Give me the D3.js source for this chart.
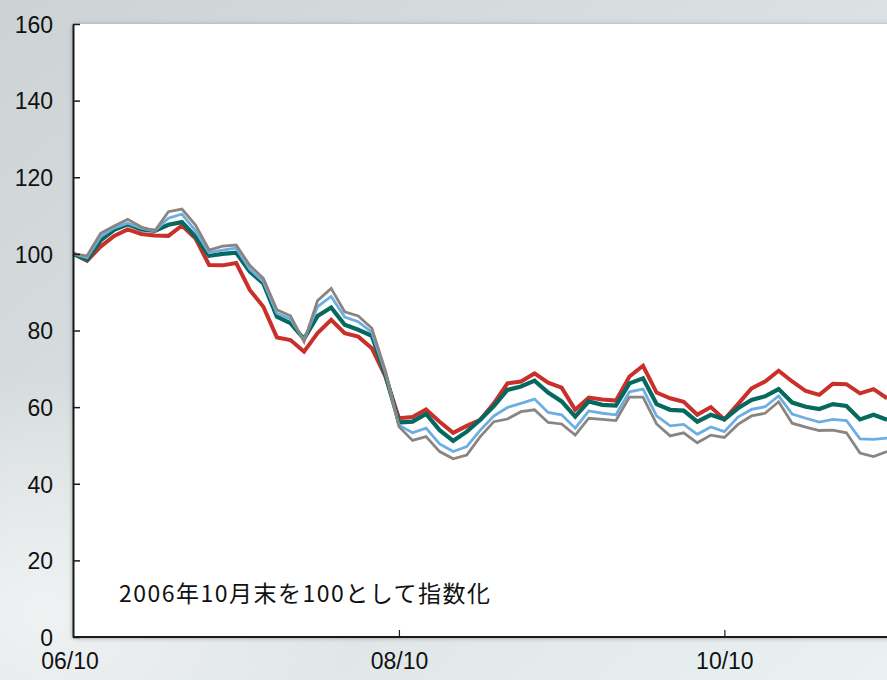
<!DOCTYPE html>
<html>
<head>
<meta charset="utf-8">
<script src="https://cdn.jsdelivr.net/npm/d3@7.9.0/dist/d3.min.js"></script>
<style>
  html, body { margin: 0; padding: 0; background: #dfe4e6; }
  svg { display: block; }
  .tick text { font-family: "Liberation Sans", Arial, sans-serif; font-size: 23px; fill: #111; }
</style>
</head>
<body>
<svg id="chart" width="887" height="680"></svg>
<script>
// === Data: monthly index, 2006/10 = 100 ===
const months = d3.range(0, 61); // 06/10 .. 11/10
const xTickMonths = [0, 24, 48];
const xTickLabels = ['06/10', '08/10', '10/10'];
const yTicks = [0, 20, 40, 60, 80, 100, 120, 140, 160];

const redValues = [
  100, 98.2, 101.9, 104.7, 106.4, 105.2, 104.8, 104.7, 107.4, 104, 97.1, 97, 97.6,
  90.6, 86.2, 78.2, 77.5, 74.5, 79.3, 82.8, 79.3, 78.4, 75.4, 68, 57.1, 57.4, 59.4,
  56.2, 53.3, 55.1, 56.7, 61, 66.2, 66.7, 68.8, 66.4, 65.1, 59.3, 62.5, 62, 61.7,
  68, 70.8, 63.8, 62.3, 61.4, 58, 60, 56.8, 60.8, 64.9, 66.7, 69.5, 66.7, 64.2,
  63.2, 66.1, 66, 63.6, 64.7, 62.3
];
const tealValues = [
  100, 98.5, 103.5, 106.3, 107.7, 106.4, 106, 107.6, 108.3, 104.5, 99.5, 100, 100.3,
  95.4, 92.3, 83.6, 81.9, 77.8, 83.8, 86, 81.5, 80.2, 78.6, 68.5, 56, 56.2, 58.2,
  54, 51.2, 53.6, 56.7, 60.3, 64.5, 65.4, 66.9, 63.8, 61.5, 57.5, 61.5, 60.6, 60.4,
  66.2, 67.5, 60.8, 59.3, 59.1, 56.2, 58, 56.8, 59.7, 61.9, 62.8, 64.7, 61.2, 60.1,
  59.5, 60.8, 60.3, 56.8, 58, 56.7
];
const blueValues = [
  100, 99, 104.5, 106.8, 108, 106.7, 106, 109.3, 110.4, 106, 100.3, 101, 101.5,
  96, 92.8, 84.5, 83, 77.5, 86.2, 88.9, 83.5, 82.3, 79.5, 69, 55.3, 53.3, 54.5,
  50.4, 48.4, 49.7, 54, 57.7, 59.9, 61, 62.1, 58.6, 58, 54.5, 59, 58.4, 58,
  64, 64.7, 57.7, 55.1, 55.5, 52.9, 54.8, 53.6, 57.4, 59.4, 60.1, 62.9, 58.2, 57.1,
  56.1, 56.8, 56.5, 51.7, 51.6, 51.9
];
const grayValues = [
  100, 99.5, 105.4, 107.3, 109, 107, 106, 111, 111.7, 107.5, 101, 102, 102.3,
  97, 93.6, 85.4, 83.8, 77.1, 87.8, 91, 84.9, 83.8, 80.6, 69.5, 54.9, 51.3, 52.3,
  48.4, 46.5, 47.5, 52.3, 56.2, 56.9, 58.8, 59.3, 56, 55.6, 52.7, 57.1, 56.8, 56.5,
  62.6, 62.6, 55.6, 52.5, 53.3, 50.7, 52.7, 52.1, 55.5, 57.7, 58.4, 61.4, 55.8, 54.8,
  53.9, 54, 53.3, 48, 47.1, 48.4
];

const note = '2006年10月末を100として指数化';

// === Layout ===
const svg = d3.select('#chart');
const W = 887, H = 680;
const plotLeft = 73, plotTop = 24, plotBottom = 637;

const x = d3.scaleLinear().domain([0, 60]).range([73.5, 887.1]);
const y = d3.scaleLinear().domain([0, 160]).range([plotBottom, plotTop]);

// Background (rough imitation of the textured backdrop)
const defs = svg.append('defs');
const bg = defs.append('linearGradient').attr('id', 'bg')
  .attr('x1', 0).attr('y1', 0).attr('x2', 1).attr('y2', 1);
bg.append('stop').attr('offset', '0%').attr('stop-color', '#cdd2d5');
bg.append('stop').attr('offset', '55%').attr('stop-color', '#dde3e4');
bg.append('stop').attr('offset', '100%').attr('stop-color', '#eaf1f3');

const glow = defs.append('radialGradient').attr('id', 'glow')
  .attr('cx', 0.05).attr('cy', 0.9).attr('r', 0.35);
glow.append('stop').attr('offset', '0%').attr('stop-color', '#f2f4f4').attr('stop-opacity', 0.9);
glow.append('stop').attr('offset', '100%').attr('stop-color', '#f2f4f4').attr('stop-opacity', 0);

const shadow = defs.append('filter').attr('id', 'shadow')
  .attr('x', -0.05).attr('y', -0.05).attr('width', 1.1).attr('height', 1.1);
shadow.append('feDropShadow').attr('dx', 0).attr('dy', 1)
  .attr('stdDeviation', 2.5).attr('flood-color', '#000').attr('flood-opacity', 0.35);

svg.append('rect').attr('width', W).attr('height', H).attr('fill', 'url(#bg)');
svg.append('rect').attr('width', W).attr('height', H).attr('fill', 'url(#glow)');

// White plot area
svg.append('rect')
  .attr('x', plotLeft).attr('y', plotTop)
  .attr('width', W - plotLeft + 10).attr('height', plotBottom - plotTop)
  .attr('fill', '#fff')
  .attr('filter', 'url(#shadow)');

// === Lines ===
const series = [
  { values: redValues, color: '#c9302a', width: 4 },
  { values: tealValues, color: '#06695f', width: 4.2 },
  { values: blueValues, color: '#6caee2', width: 2.8 },
  { values: grayValues, color: '#8b8581', width: 2.8 },
];

const line = d3.line()
  .x((d, i) => x(months[i]))
  .y((d) => y(d));

const plot = svg.append('g');
series.forEach((s) => {
  plot.append('path')
    .datum(s.values)
    .attr('fill', 'none')
    .attr('stroke', s.color)
    .attr('stroke-width', s.width)
    .attr('stroke-linejoin', 'miter')
    .attr('d', line);
});

// === Axes ===
const yAxis = d3.axisLeft(y)
  .tickValues(yTicks)
  .tickSizeInner(-7)
  .tickSizeOuter(0)
  .tickPadding(20);

svg.append('g')
  .attr('transform', `translate(${plotLeft},0)`)
  .call(yAxis)
  .call((g) => g.select('.domain').attr('stroke', '#1a1a1a').attr('stroke-width', 2))
  .call((g) => g.selectAll('.tick line').attr('stroke', '#1a1a1a').attr('stroke-width', 1.5))
  .call((g) => g.selectAll('.tick text').attr('dy', '0.36em'));

const xAxis = d3.axisBottom(x)
  .tickValues(xTickMonths)
  .tickFormat((d, i) => xTickLabels[i])
  .tickSizeInner(-7)
  .tickSizeOuter(0)
  .tickPadding(16);

svg.append('g')
  .attr('transform', `translate(0,${plotBottom})`)
  .call(xAxis)
  .call((g) => g.select('.domain').attr('d', `M${plotLeft},0H${W + 5}`)
    .attr('stroke', '#1a1a1a').attr('stroke-width', 2))
  .call((g) => g.selectAll('.tick line').attr('stroke', '#1a1a1a').attr('stroke-width', 1.2)
    .attr('opacity', (d) => (d === 0 ? 0 : 1)))
  .call((g) => g.selectAll('.tick text').attr('dx', (d) => (d === 0 ? -4 : 0)));

// === Annotation ===
svg.append('text')
  .attr('x', 119)
  .attr('y', 602)
  .attr('textLength', 371)
  .attr('lengthAdjust', 'spacing')
  .attr('font-family', '"Noto Sans CJK JP", "Noto Sans", sans-serif')
  .attr('font-size', 23)
  .attr('fill', '#111')
  .text(note);
</script>
</body>
</html>
